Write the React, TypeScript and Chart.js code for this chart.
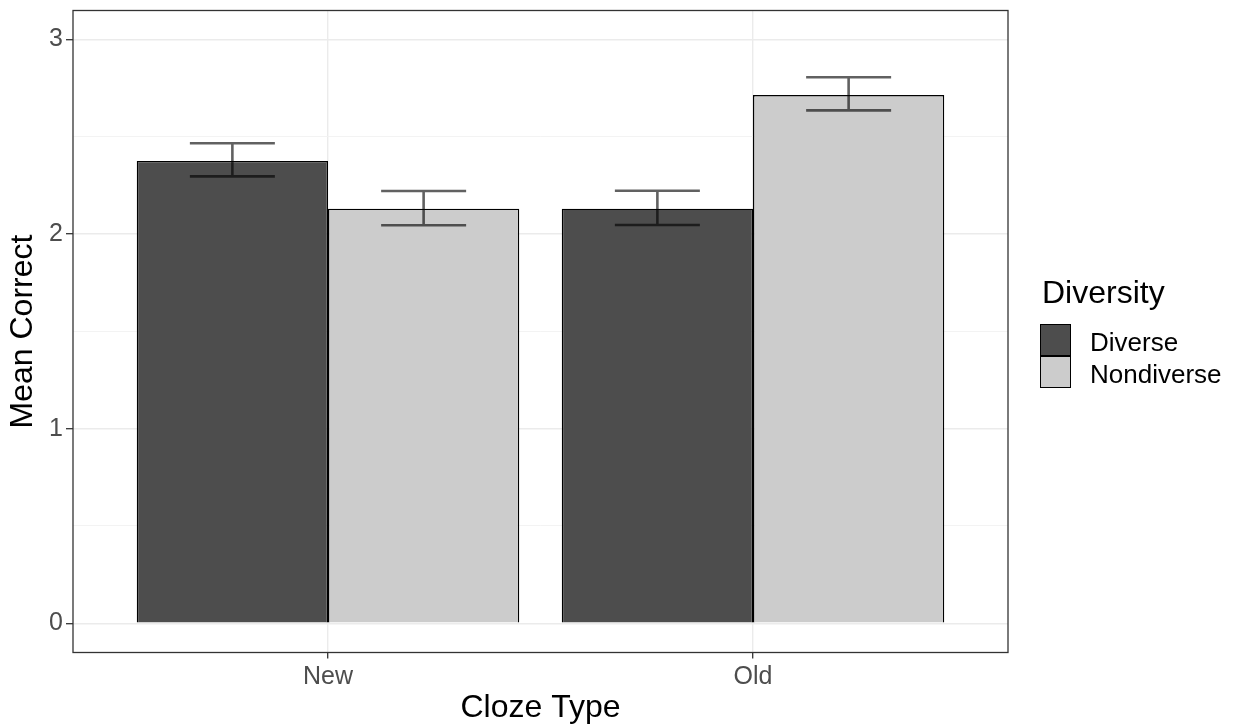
import React, { useEffect, useRef } from 'react';
import { Chart, registerables } from 'chart.js';

Chart.register(...registerables);

const categories = ['New', 'Old'];
const groups = ['Diverse', 'Nondiverse'];
const diverseMean = [2.375, 2.13];
const diverseLow = [2.296, 2.046];
const diverseHigh = [2.466, 2.222];
const nondiverseMean = [2.13, 2.714];
const nondiverseLow = [2.045, 2.635];
const nondiverseHigh = [2.221, 2.805];
const yTicks = [0, 0.5, 1, 1.5, 2, 2.5, 3];
const groupColors = ['#4D4D4D', '#CCCCCC'];

const FONT = "'Liberation Sans', Arial, sans-serif";

const errorBarPlugin = {
  id: 'errorBars',
  afterDatasetsDraw(chart: any) {
    const { ctx } = chart;
    const x = chart.scales.x;
    const y = chart.scales.y;
    const half = Math.abs(x.getPixelForValue(0.1) - x.getPixelForValue(0));
    chart.data.datasets.forEach((ds: any, di: number) => {
      const meta = chart.getDatasetMeta(di);
      meta.data.forEach((bar: any, i: number) => {
        const lo = y.getPixelForValue(ds.errLow[i]);
        const hi = y.getPixelForValue(ds.errHigh[i]);
        ctx.save();
        ctx.strokeStyle = 'rgba(0,0,0,0.62)';
        ctx.lineWidth = 2.6;
        ctx.beginPath();
        ctx.moveTo(bar.x - half, hi);
        ctx.lineTo(bar.x + half, hi);
        ctx.moveTo(bar.x, hi);
        ctx.lineTo(bar.x, lo);
        ctx.moveTo(bar.x - half, lo);
        ctx.lineTo(bar.x + half, lo);
        ctx.stroke();
        ctx.restore();
      });
    });
  },
};

const panelPlugin = {
  id: 'panelBorder',
  afterDraw(chart: any) {
    const { ctx, chartArea: ca } = chart;
    ctx.save();
    ctx.strokeStyle = '#333333';
    ctx.lineWidth = 1.3;
    ctx.strokeRect(ca.left, ca.top, ca.right - ca.left, ca.bottom - ca.top);
    ctx.restore();
  },
};

const legendPlugin = {
  id: 'customLegend',
  afterDraw(chart: any) {
    const { ctx, chartArea: ca } = chart;
    const mid = (ca.top + ca.bottom) / 2;
    const kx = ca.right + 32;
    ctx.save();
    ctx.fillStyle = '#000000';
    ctx.textAlign = 'left';
    ctx.textBaseline = 'alphabetic';
    ctx.font = `32px ${FONT}`;
    ctx.fillText('Diversity', ca.right + 34, mid - 28.5);
    const size = 32;
    groups.forEach((g, i) => {
      const top = mid - 7.5 + i * size;
      ctx.fillStyle = groupColors[i];
      ctx.fillRect(kx, top, 31, size);
      ctx.strokeStyle = '#000000';
      ctx.lineWidth = 1;
      ctx.strokeRect(kx + 0.5, top + 0.5, 30, size - 1);
      ctx.fillStyle = '#000000';
      ctx.font = `26px ${FONT}`;
      ctx.fillText(g, ca.right + 82, top + 26.5);
    });
    ctx.restore();
  },
};

export default function App() {
  const ref = useRef<HTMLCanvasElement | null>(null);

  useEffect(() => {
    if (!ref.current) return;
    const chart = new Chart(ref.current, {
      type: 'bar',
      data: {
        datasets: [
          {
            label: groups[0],
            data: categories.map((c, i) => ({ x: i + 1, y: diverseMean[i] })) as any,
            backgroundColor: groupColors[0],
            borderColor: '#000000',
            borderWidth: 1.4,
            categoryPercentage: 0.9,
            barPercentage: 1.0,
            errLow: diverseLow,
            errHigh: diverseHigh,
          } as any,
          {
            label: groups[1],
            data: categories.map((c, i) => ({ x: i + 1, y: nondiverseMean[i] })) as any,
            backgroundColor: groupColors[1],
            borderColor: '#000000',
            borderWidth: 1.4,
            categoryPercentage: 0.9,
            barPercentage: 1.0,
            errLow: nondiverseLow,
            errHigh: nondiverseHigh,
          } as any,
        ],
      },
      options: {
        animation: false,
        responsive: true,
        maintainAspectRatio: false,
        devicePixelRatio: 1,
        layout: { padding: { top: 10.5, right: 233, left: 0, bottom: 0 } },
        plugins: {
          legend: { display: false },
          tooltip: { enabled: false },
        },
        scales: {
          x: {
            type: 'linear',
            min: 0.4,
            max: 2.6,
            offset: false,
            afterBuildTicks: (scale: any) => {
              scale.ticks = categories.map((c, i) => ({ value: i + 1 }));
            },
            afterFit: (scale: any) => {
              scale.height = 74.5;
              scale.paddingLeft = 0;
              scale.paddingRight = 0;
            },
            ticks: {
              autoSkip: false,
              maxRotation: 0,
              padding: 4,
              color: '#4D4D4D',
              font: { family: FONT, size: 25 },
              callback: (v: any) => categories[Math.round(v) - 1] ?? '',
            },
            grid: {
              offset: false,
              color: '#EBEBEB',
              lineWidth: 1.4,
              drawTicks: true,
              tickLength: 6,
              tickColor: '#333333',
              tickWidth: 1.3,
            },
            border: { display: false },
            title: {
              display: true,
              text: 'Cloze Type',
              color: '#000000',
              font: { family: FONT, size: 32 },
              padding: { top: 0, bottom: 0 },
            },
          },
          y: {
            type: 'linear',
            min: -0.15,
            max: 3.148,
            afterBuildTicks: (scale: any) => {
              scale.ticks = yTicks.map((v) => ({ value: v }));
            },
            afterFit: (scale: any) => {
              scale.width = 73;
              scale.paddingTop = 0;
              scale.paddingBottom = 0;
            },
            ticks: {
              autoSkip: false,
              padding: 3,
              color: '#4D4D4D',
              font: { family: FONT, size: 25 },
              callback: (v: any) => (Number(v) % 1 === 0 ? String(v) : ''),
            },
            grid: {
              color: (ctx: any) => (ctx.tick && ctx.tick.value % 1 === 0 ? '#EBEBEB' : '#F2F2F2'),
              lineWidth: (ctx: any) => (ctx.tick && ctx.tick.value % 1 === 0 ? 1.4 : 0.9),
              drawTicks: true,
              tickLength: 7,
              tickColor: (ctx: any) => (ctx.tick && ctx.tick.value % 1 === 0 ? '#333333' : 'rgba(0,0,0,0)'),
              tickWidth: 1.3,
            },
            border: { display: false },
            title: {
              display: true,
              text: 'Mean Correct',
              color: '#000000',
              font: { family: FONT, size: 32 },
              padding: { top: 4, bottom: 0 },
            },
          },
        },
      } as any,
      plugins: [errorBarPlugin, panelPlugin, legendPlugin],
    });
    return () => chart.destroy();
  }, []);

  return (
    <div style={{ position: 'absolute', left: 0, top: 0, width: 1241, height: 727, background: '#FFFFFF' }}>
      <canvas ref={ref} />
    </div>
  );
}
